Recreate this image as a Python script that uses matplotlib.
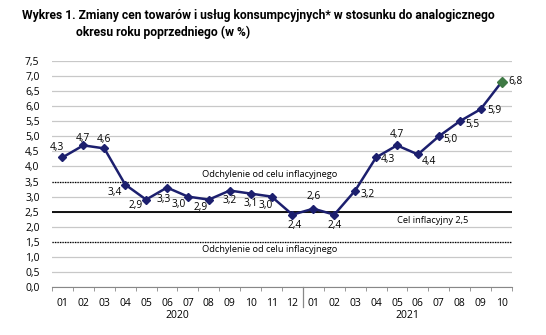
import numpy as np
import matplotlib.pyplot as plt

plt.rcParams['font.family'] = ['Open Sans', 'DejaVu Sans']

# Data
months = ['01', '02', '03', '04', '05', '06', '07', '08', '09', '10', '11', '12',
          '01', '02', '03', '04', '05', '06', '07', '08', '09', '10']
values = [4.3, 4.7, 4.6, 3.4, 2.9, 3.3, 3.0, 2.9, 3.2, 3.1, 3.0, 2.4,
          2.6, 2.4, 3.2, 4.3, 4.7, 4.4, 5.0, 5.5, 5.9, 6.8]
years = ['2020', '2021']
target = 2.5
band_hi = 3.5
band_lo = 1.5

# label centre offsets from the point, in pixels (x right, y up)
offsets = [(-6, 10), (0, 7), (0, 9), (-10, -8), (-10, -6), (-3, -12), (-9, -8), (-8, -8),
           (0, -10), (0, -10), (-6, -9), (2, -11), (0, 12), (0, -11), (12, -4), (12, -2),
           (0, 11), (11, -7), (12, -3), (13, -3), (14, -1), (14, 1)]

fig = plt.figure(figsize=(5.46, 3.35), dpi=100)
ax = fig.add_axes([52 / 546, 1 - 287 / 335, 460 / 546, 226 / 335])

x = np.arange(len(values))
ax.set_xlim(-0.5, len(values) - 0.5)
ax.set_ylim(0, 7.5)
yt = np.arange(0, 7.51, 0.5)
ax.set_yticks(yt)
ax.set_yticklabels([f'{v:.1f}'.replace('.', ',') for v in yt], fontsize=7.5)
ax.yaxis.grid(True, color='#c8c8c8', linewidth=0.9)
ax.set_axisbelow(True)
for s in ['top', 'right', 'left']:
    ax.spines[s].set_visible(False)
ax.spines['bottom'].set_color('#888888')
ax.tick_params(axis='y', length=0, pad=9)
ax.set_xticks(x)
ax.set_xticklabels(months, fontsize=7.5)
ax.tick_params(axis='x', length=0, pad=8)
ax.set_xticks(np.arange(-0.5, len(values), 1), minor=True)
ax.tick_params(axis='x', which='minor', length=3, color='#888888')

ax.axhline(target, color='black', linewidth=1.3, zorder=2)
ax.axhline(band_hi, color='black', linewidth=0.9, linestyle=(0, (1, 1)), zorder=2)
ax.axhline(band_lo, color='black', linewidth=0.9, linestyle=(0, (1, 1)), zorder=2)

ax.text(9.9, band_hi + 0.23, 'Odchylenie od celu inflacyjnego', fontsize=6.7, ha='center', va='center')
ax.text(9.9, band_lo - 0.27, 'Odchylenie od celu inflacyjnego', fontsize=6.7, ha='center', va='center')
ax.text(17.7, target - 0.3, 'Cel inflacyjny 2,5', fontsize=6.7, ha='center', va='center')

navy = '#1c1f6e'
ax.plot(x, values, color=navy, linewidth=1.8, marker='D', markersize=4, zorder=3)
ax.plot(x[-1], values[-1], marker='D', color='#3f7a45', markersize=5, zorder=4)

for xi, v, off in zip(x, values, offsets):
    ax.annotate(f'{v:.1f}'.replace('.', ','), (xi, v), xytext=off, textcoords='offset pixels',
                fontsize=7.3, ha='center', va='center')

# year separator and labels
ax.plot([11.5, 11.5], [0, -0.67], color='#888888', linewidth=0.9, clip_on=False)
ax.text(5.5, -0.93, years[0], fontsize=7.5, ha='center', va='center')
ax.text(16.5, -0.93, years[1], fontsize=7.5, ha='center', va='center')

fig.text(22 / 546, 1 - 15 / 335, 'Wykres 1. Zmiany cen towarów i usług konsumpcyjnych* w stosunku do analogicznego',
         fontsize=8.7, fontweight='bold', family='Roboto', ha='left', va='center')
fig.text(76 / 546, 1 - 32 / 335, 'okresu roku poprzedniego (w %)', fontsize=8.7, fontweight='bold',
         family='Roboto', ha='left', va='center')

fig.savefig('out.png', dpi=100)
